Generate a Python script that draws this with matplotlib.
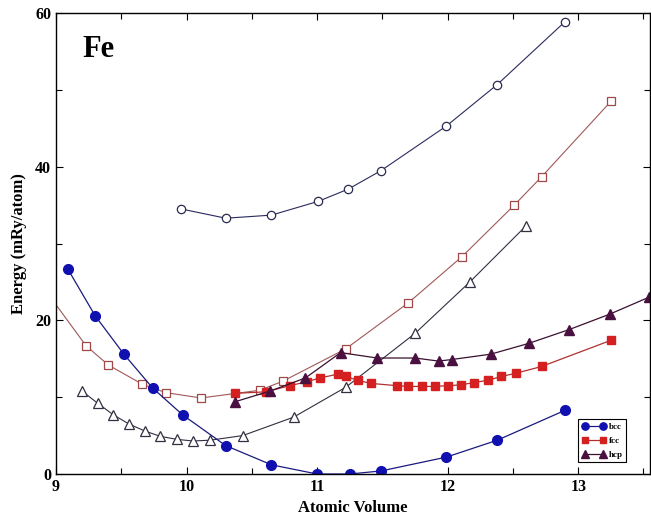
import matplotlib
matplotlib.use("Agg")
import matplotlib.pyplot as plt
from matplotlib.ticker import MultipleLocator

plt.rcParams['font.family'] = ['Liberation Serif', 'DejaVu Serif']
plt.rcParams['font.weight'] = 'bold'

# bcc (filled circles)
bcc_x = [9.09, 9.30, 9.52, 9.74, 9.97, 10.30, 10.65, 11.00, 11.25, 11.49, 11.99, 12.38, 12.90]
bcc_y = [26.7, 20.6, 15.6, 11.2, 7.7, 3.7, 1.2, 0.0, 0.0, 0.4, 2.2, 4.4, 8.3]

# fcc (filled squares)
fcc_x = [10.37, 10.61, 10.79, 10.92, 11.02, 11.16, 11.22, 11.31, 11.41, 11.61, 11.70,
         11.80, 11.90, 12.00, 12.10, 12.20, 12.31, 12.41, 12.52, 12.72, 13.25]
fcc_y = [10.5, 10.7, 11.5, 12.0, 12.5, 13.0, 12.7, 12.2, 11.8, 11.5, 11.4,
         11.4, 11.4, 11.5, 11.6, 11.9, 12.2, 12.7, 13.1, 14.0, 17.4]

# hcp (filled triangles)
hcp_x = [10.37, 10.64, 10.91, 11.18, 11.46, 11.75, 11.93, 12.03, 12.33, 12.62, 12.93, 13.24, 13.54]
hcp_y = [9.4, 10.8, 12.5, 15.8, 15.1, 15.1, 14.7, 14.9, 15.6, 17.0, 18.8, 20.8, 23.0]

# open circles
oc_x = [9.96, 10.30, 10.65, 11.01, 11.24, 11.49, 11.99, 12.38, 12.90]
oc_y = [34.5, 33.3, 33.7, 35.5, 37.1, 39.5, 45.3, 50.7, 58.9]

# open squares
os_x = [8.95, 9.23, 9.40, 9.66, 9.84, 10.11, 10.56, 10.74, 11.22, 11.70, 12.11, 12.51, 12.72, 13.25]
os_y = [23.2, 16.7, 14.2, 11.7, 10.6, 9.9, 10.9, 12.1, 16.3, 22.3, 28.3, 35.0, 38.7, 48.5]

# open triangles
ot_x = [9.20, 9.32, 9.44, 9.56, 9.68, 9.80, 9.93, 10.05, 10.18, 10.43, 10.82, 11.22, 11.75, 12.17, 12.60]
ot_y = [10.8, 9.2, 7.7, 6.5, 5.6, 4.9, 4.5, 4.3, 4.4, 5.0, 7.4, 11.3, 18.3, 25.0, 32.3]

fig = plt.figure(figsize=(6.51, 5.24), dpi=100)
ax = fig.add_axes([0.086, 0.0954, 0.9125, 0.8796])

ax.plot(oc_x, oc_y, '-o', color='#2a2a60', lw=0.8, ms=6, mfc='white', mec='#2a2a50', mew=0.9)
ax.plot(os_x, os_y, '-s', color='#a05858', lw=0.8, ms=6, mfc='white', mec='#a04848', mew=0.9)
ax.plot(ot_x, ot_y, '-^', color='#303040', lw=0.8, ms=6.5, mfc='white', mec='#303040', mew=0.9)

ax.plot(bcc_x, bcc_y, '-o', color='#1a1a80', lw=0.9, ms=7, mfc='#1010b0', mec='#1010b0', label='bcc')
ax.plot(fcc_x, fcc_y, '-s', color='#b03030', lw=0.9, ms=6, mfc='#d42020', mec='#d42020', label='fcc')
ax.plot(hcp_x, hcp_y, '-^', color='#3a1030', lw=0.9, ms=7, mfc='#4a1040', mec='#4a1040', label='hcp')

ax.set_xlim(9, 13.55)
ax.set_ylim(0, 60)
ax.xaxis.set_major_locator(MultipleLocator(1))
ax.xaxis.set_minor_locator(MultipleLocator(0.5))
ax.yaxis.set_major_locator(MultipleLocator(20))
ax.yaxis.set_minor_locator(MultipleLocator(10))
ax.tick_params(which='both', direction='in', top=True, right=True, labelsize=11.5, width=0.8)
ax.tick_params(which='major', length=5)
ax.tick_params(which='minor', length=4)
for s in ax.spines.values():
    s.set_linewidth(1.0)

ax.set_xlabel('Atomic Volume', fontsize=12, fontweight='bold', labelpad=4)
ax.set_ylabel('Energy (mRy/atom)', fontsize=12, fontweight='bold', labelpad=6)
ax.text(0.045, 0.92, 'Fe', transform=ax.transAxes, fontsize=22, fontweight='bold', va='center')

leg = ax.legend(loc='lower right', bbox_to_anchor=(0.96, 0.025), numpoints=2, fontsize=6.5,
                markerscale=0.75, handlelength=2.6, handletextpad=0.35, borderpad=0.4,
                labelspacing=0.6, fancybox=False, edgecolor='black', framealpha=1,
                borderaxespad=0)
leg.get_frame().set_linewidth(0.8)

fig.savefig('out.png', dpi=100)
